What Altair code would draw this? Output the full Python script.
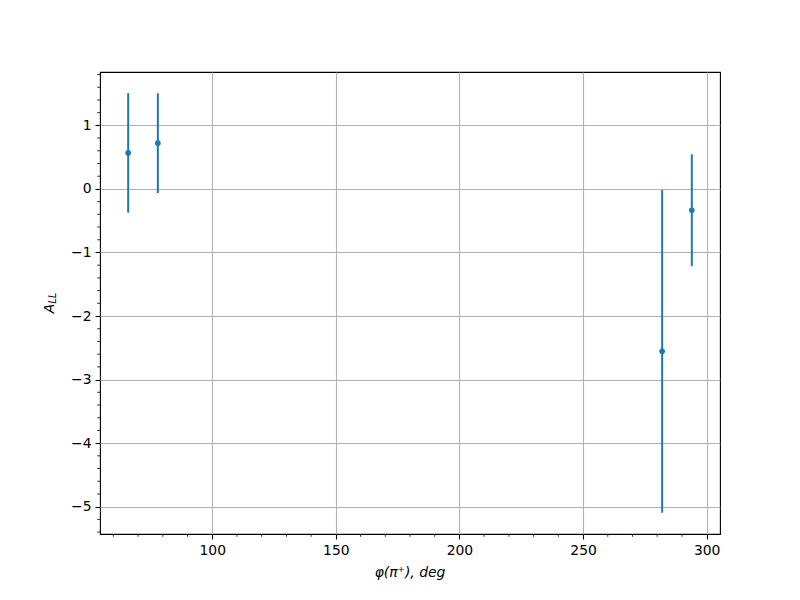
import altair as alt
import pandas as pd

# data
phi = [66, 78, 282, 294]
a_ll = [0.567, 0.72, -2.555, -0.335]
err = [0.94, 0.785, 2.54, 0.88]

x_major = [100, 150, 200, 250, 300]
y_major = [-5, -4, -3, -2, -1, 0, 1]
x_minor = [v for v in range(60, 300, 10) if v % 50 != 0]
y_minor = [round(-5.4 + 0.2 * i, 1) for i in range(37) if abs(round(-5.4 + 0.2 * i, 1) % 1) > 1e-6]

X_DOMAIN = [54.6, 305.4]
Y_DOMAIN = [-5.43, 1.84]
W, H = 620, 462
BLUE = "#1f77b4"
FONT = "DejaVu Sans"

df = pd.DataFrame({"phi": phi, "a": a_ll, "err": err})
df["lo"] = df["a"] - df["err"]
df["hi"] = df["a"] + df["err"]

xs = alt.Scale(domain=X_DOMAIN, nice=False, zero=False)
ys = alt.Scale(domain=Y_DOMAIN, nice=False, zero=False)

axis_common = dict(
    grid=True, gridColor="#b0b0b0", gridWidth=1.1, gridOpacity=1,
    domain=False, ticks=True, tickColor="black", tickWidth=1.1, tickSize=5,
    labelFont=FONT, labelFontSize=13.9, labelColor="black", labelPadding=4,
    title="",
)
X_AX = alt.Axis(values=x_major, **axis_common)
Y_AX = alt.Axis(values=y_major, **axis_common)

bars = alt.Chart(df).mark_rule(color=BLUE, strokeWidth=2).encode(
    x=alt.X("phi:Q", scale=xs, axis=X_AX, title=""),
    y=alt.Y("lo:Q", scale=ys, axis=Y_AX, title=""),
    y2="hi:Q",
)

points = alt.Chart(df).mark_circle(color=BLUE, opacity=1, size=32).encode(
    x=alt.X("phi:Q", scale=xs, axis=X_AX, title=""),
    y=alt.Y("a:Q", scale=ys, axis=Y_AX, title=""),
)

xm = alt.Chart(pd.DataFrame({"m": x_minor})).mark_rule(color="black", strokeWidth=0.8).encode(
    x=alt.X("m:Q", scale=xs, axis=X_AX, title=""),
    y=alt.value(H),
    y2=alt.value(H + 2.8),
)
ym = alt.Chart(pd.DataFrame({"m": y_minor})).mark_rule(color="black", strokeWidth=0.8).encode(
    y=alt.Y("m:Q", scale=ys, axis=Y_AX, title=""),
    x=alt.value(0),
    x2=alt.value(-2.8),
)

xtitle = alt.Chart(pd.DataFrame({"t": ["φ(π⁺), deg"]})).mark_text(
    font=FONT, fontSize=13.9, fontStyle="italic", align="center", baseline="middle", color="black"
).encode(x=alt.value(W / 2), y=alt.value(501), text="t:N")

ytitle_a = alt.Chart(pd.DataFrame({"t": ["A"]})).mark_text(
    font=FONT, fontSize=13.9, fontStyle="italic", align="center", baseline="middle", angle=270, color="black"
).encode(x=alt.value(-50), y=alt.value(236.5), text="t:N")

ytitle_ll = alt.Chart(pd.DataFrame({"t": ["LL"]})).mark_text(
    font=FONT, fontSize=9.7, fontStyle="italic", align="center", baseline="middle", angle=270, color="black"
).encode(x=alt.value(-47.5), y=alt.value(226), text="t:N")

chart = alt.layer(bars, points, xm, ym, xtitle, ytitle_a, ytitle_ll).properties(
    width=W, height=H,
    background="white",
    autosize=alt.AutoSizeParams(type="none"),
    padding={"left": 92, "top": 64, "right": 72, "bottom": 58},
).configure_view(stroke="black", strokeWidth=1.1)

chart.save("out.html", embed_options={"renderer": "svg", "actions": False})
